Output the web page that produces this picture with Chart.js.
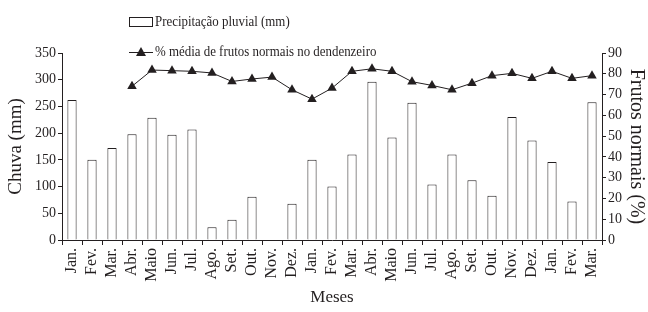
<!DOCTYPE html>
<html>
<head>
<meta charset="utf-8">
<script src="https://cdn.jsdelivr.net/npm/chart.js@4"></script>
<style>
  html, body { margin: 0; padding: 0; background: #fff; }
  #wrap { width: 648px; height: 312px; }
</style>
</head>
<body>
<div id="wrap"><canvas id="myChart" width="648" height="312"></canvas></div>
<script>
var months = ['Jan.', 'Fev.', 'Mar.', 'Abr.', 'Maio', 'Jun.', 'Jul.', 'Ago.', 'Set.', 'Out.', 'Nov.', 'Dez.',
              'Jan.', 'Fev.', 'Mar.', 'Abr.', 'Maio', 'Jun.', 'Jul.', 'Ago.', 'Set.', 'Out.', 'Nov.', 'Dez.',
              'Jan.', 'Fev.', 'Mar.']
var chuva = [262, 150, 172, 198, 229, 197, 207, 24, 38, 81, 0, 68,
             150, 100, 160, 296, 192, 257, 104, 160, 112, 83, 230, 186,
             146, 72, 258]
var frutos = [null, null, null, 74, 81.8, 81.5, 81.2, 80.4, 76.3, 77.5, 78.4, 72.3,
              67.8, 73.1, 81.2, 82.4, 81.2, 76.2, 74.4, 72.3, 75.5, 79.1, 80.2, 77.8,
              81.2, 77.8, 79.1]
var chuvaTicks = [0, 50, 100, 150, 200, 250, 300, 350]
var frutosTicks = [0, 10, 20, 30, 40, 50, 60, 70, 80, 90]

var ink = '#231f20'
var serif = '"Liberation Serif", "Times New Roman", serif'

// legend drawn by hand, stacked like the original (text a bit condensed)
var legendPlugin = {
    id: 'stackedLegend',
    afterDraw: function (chart) {
        var c = chart.ctx
        c.save()
        c.strokeStyle = ink
        c.lineWidth = 1
        c.fillStyle = '#fff'
        c.fillRect(129.5, 17.5, 23, 9)
        c.strokeRect(129.5, 17.5, 23, 9)

        c.fillStyle = ink
        c.beginPath()
        c.moveTo(129, 52.5)
        c.lineTo(153, 52.5)
        c.stroke()
        c.beginPath()
        c.moveTo(141, 47)
        c.lineTo(146, 56)
        c.lineTo(136, 56)
        c.closePath()
        c.fill()

        c.font = '15px ' + serif
        c.textBaseline = 'middle'
        c.textAlign = 'left'
        c.translate(155, 0)
        c.scale(0.86, 1)
        c.fillText('Precipitação pluvial (mm)', 0, 22)
        c.fillText('% média de frutos normais no dendenzeiro', 0, 52)
        c.restore()
    }
}

var ctx = document.getElementById('myChart').getContext('2d')
var chart = new Chart(ctx, {
    type: 'bar',
    data: {
        labels: months,
        datasets: [{
            type: 'line',
            label: '% média de frutos normais no dendenzeiro',
            data: frutos,
            yAxisID: 'y1',
            borderColor: ink,
            borderWidth: 1,
            backgroundColor: ink,
            pointStyle: 'triangle',
            pointRadius: 5.5,
            pointBorderWidth: 0,
            pointBackgroundColor: ink,
            tension: 0,
            spanGaps: false
        }, {
            label: 'Precipitação pluvial (mm)',
            data: chuva,
            yAxisID: 'y',
            backgroundColor: '#fff',
            borderColor: ink,
            borderWidth: 1,
            barPercentage: 0.46,
            categoryPercentage: 1
        }]
    },
    options: {
        responsive: false,
        animation: false,
        layout: { padding: { top: 53, left: 0, right: 0, bottom: 0 } },
        plugins: {
            legend: { display: false },
            tooltip: { enabled: false }
        },
        scales: {
            x: {
                offset: true,
                grid: { offset: true, drawOnChartArea: false, drawTicks: true, tickLength: 5, color: ink },
                border: { color: ink, width: 1 },
                ticks: {
                    color: ink, font: { family: serif, size: 16 },
                    minRotation: 90, maxRotation: 90, autoSkip: false, padding: 3
                },
                title: { display: true, text: 'Meses', color: ink, font: { family: serif, size: 17 }, padding: { top: 2 } },
                afterFit: function (s) { s.height = 72 }
            },
            y: {
                position: 'left',
                min: 0, max: 350,
                afterBuildTicks: function (s) { s.ticks = chuvaTicks.map(function (v) { return { value: v } }) },
                grid: { drawOnChartArea: false, tickLength: 4, color: ink },
                border: { color: ink, width: 1 },
                ticks: { color: ink, font: { family: serif, size: 14 }, padding: 2 },
                title: { display: true, text: 'Chuva (mm)', color: ink, font: { family: serif, size: 19 }, padding: { top: 5, bottom: 0 } },
                afterFit: function (s) { s.width = 62 }
            },
            y1: {
                position: 'right',
                min: 0, max: 90,
                afterBuildTicks: function (s) { s.ticks = frutosTicks.map(function (v) { return { value: v } }) },
                grid: { drawOnChartArea: false, tickLength: 4, color: ink },
                border: { color: ink, width: 1 },
                ticks: { color: ink, font: { family: serif, size: 14 }, padding: 2 },
                title: { display: true, text: 'Frutos normais (%)', color: ink, font: { family: serif, size: 20 }, padding: 0 },
                afterFit: function (s) { s.width = 46 }
            }
        }
    },
    plugins: [legendPlugin]
})
</script>
</body>
</html>
